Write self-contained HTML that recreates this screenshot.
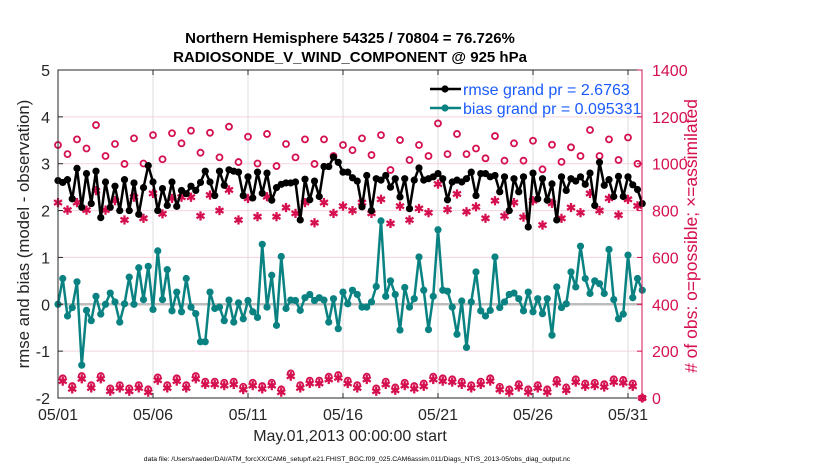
<!DOCTYPE html>
<html><head><meta charset="utf-8"><style>
body{margin:0;background:#fff;}
svg{display:block;font-family:"Liberation Sans",sans-serif;}
</style></head><body>
<svg id="chart" width="830" height="470"></svg>
<script>
const rmseVals=[2.64,2.6,2.66,2.25,2.9,2.07,2.79,2.15,2.84,1.85,2.61,2.07,2.52,2.0,2.66,2.0,2.59,1.92,2.49,2.96,2.61,2.0,2.47,2.11,2.61,2.09,2.43,2.36,2.52,2.43,2.6,
2.84,2.61,2.32,2.84,2.54,2.87,2.84,2.82,2.32,2.72,2.27,2.82,2.37,2.80,2.22,2.49,2.56,2.59,2.59,2.61,1.80,2.67,2.23,2.63,2.30,2.94,2.94,3.14,3.03,2.82,
2.82,2.7,2.63,2.08,2.75,2.0,2.68,2.65,2.75,2.5,2.68,2.29,2.68,2.04,2.65,2.91,2.65,2.68,2.72,2.79,2.68,2.23,2.61,2.65,2.61,2.68,2.82,2.32,2.79,2.79,2.72,
2.75,2.40,2.72,2.0,2.68,2.40,2.72,1.65,2.80,2.25,2.68,2.22,2.57,1.80,2.72,2.43,2.68,2.63,2.72,2.56,2.80,2.11,3.03,2.54,2.66,2.30,2.73,2.30,2.72,2.55,2.45,2.15];
const biasVals=[0,0.55,-0.25,-0.07,0.48,-1.3,-0.13,-0.35,0.17,-0.21,0,0.24,0.05,-0.38,0.01,0.58,0,0.78,0.1,0.81,-0.11,1.14,0.1,0.74,-0.14,0.26,-0.16,0.55,-0.06,-0.2,-0.8,
-0.8,0.26,-0.09,-0.06,-0.35,0.09,-0.38,0.03,-0.31,0.08,-0.16,-0.28,1.28,-0.06,0.62,-0.45,1.02,-0.09,0.09,0.08,-0.13,0.14,0.21,0.08,0.14,0.09,-0.38,0.12,-0.52,0.26,
0.01,0.3,0.21,-0.06,-0.06,0.05,0.38,1.78,0.17,0.5,0.21,-0.55,0.36,-0.06,0.12,1.01,0.3,-0.54,0.17,1.59,0.3,0.28,-0.06,-0.64,0.07,-0.92,0.05,0.69,-0.14,-0.25,-0.13,
1.01,-0.07,0.05,0.21,0.24,0.12,-0.14,0.26,-0.16,0.12,-0.2,0.12,-0.66,0.37,-0.07,0.01,0.69,0.37,1.24,0.55,0.23,0.5,0.44,0.23,1.17,0.1,-0.31,-0.21,1.05,0.14,0.55,0.3];
const possTop=[1080,1041,1104,1065,1165,1033,1084,999,1108,1001,1122,1019,1130,1087,1141,1047,
1132,1027,1158,1007,1115,1001,1127,990,1084,1027,1104,999,1104,1033,1080,
1058,1108,1037,1122,973,1101,1016,1080,1033,1172,1041,1127,1041,1065,1023,
1118,1013,1087,1013,1098,976,1081,1008,1070,1033,1144,1033,1104,1016,1112,1000];
const assimTop=[834,802,834,802,885,802,842,760,857,767,873,786,852,857,857,777,
866,800,888,760,852,774,859,774,813,788,834,748,834,788,819,
800,834,788,848,745,819,760,809,791,913,804,871,795,816,767,
842,777,834,772,842,738,831,767,813,791,873,800,852,781,848,820];
const possBot=[84,51,94,55,94,41,55,41,55,37,88,55,84,55,94,
70,70,65,70,48,65,51,65,37,105,55,74,74,91,98,
74,55,91,41,70,45,65,51,62,91,84,80,70,55,70,
84,48,37,59,37,55,37,77,45,80,62,65,59,80,77,62,0];
const xTickLabels=["05/01","05/06","05/11","05/16","05/21","05/26","05/31"];
const xTickDays=[1,6,11,16,21,26,31];
const yTickLeft=[-2,-1,0,1,2,3,4,5];
const yTickRight=[0,200,400,600,800,1000,1200,1400];

const NS="http://www.w3.org/2000/svg";
const svg=document.getElementById('chart');
const L=58,R=642,T=70,B=398;
const CRIM="#d5104f",TEAL="#0a8282";
function xs(d){return L+(d-1)*19;}
function yl(v){return B-(v+2)*(B-T)/7;}
function yr(c){return B-c*(B-T)/1400;}
function mk(tag,at,parent){const e=document.createElementNS(NS,tag);for(const k in at)e.setAttribute(k,at[k]);(parent||svg).appendChild(e);return e;}
function txt(s,at){const e=mk('text',at);e.textContent=s;return e;}

yTickLeft.forEach(v=>{if(v>-2&&v<5){const g=mk('line',{x1:L,x2:R,y1:yl(v),y2:yl(v),stroke:'#f5d3df','stroke-width':1});

}});
xTickDays.forEach(d=>{const g=mk('line',{x1:xs(d),x2:xs(d),y1:T,y2:B,stroke:'#dcdcdc','stroke-width':1});

});
const zl=mk('line',{x1:L,x2:R,y1:yl(0),y2:yl(0),stroke:'#bdbdbd','stroke-width':2.5});



function circ(x,y){const c=mk('circle',{cx:x,cy:y,r:3,fill:'none',stroke:CRIM,'stroke-width':1.8});

}
function star(x,y){const g=mk('g',{stroke:CRIM,'stroke-width':2.3});


const r=4.6;[[0,1],[0.87,0.5],[0.87,-0.5]].forEach(([a,b])=>mk('line',{x1:x-a*r,y1:y-b*r,x2:x+a*r,y2:y+b*r},g));}
possTop.forEach((c,i)=>circ(xs(1+i*0.5),yr(c)));
assimTop.forEach((c,i)=>star(xs(1+i*0.5),yr(c)));
possBot.forEach((c,i)=>{circ(xs(1.25+i*0.5),yr(c));star(xs(1.25+i*0.5),yr(Math.max(0,c-12)));});

function series(vals,color,name){
  const pts=vals.map((v,i)=>[xs(1+i*0.25),yl(v)]);
  const p=mk('polyline',{points:pts.map(p=>p.join(',')).join(' '),fill:'none',stroke:color,'stroke-width':2.5,'stroke-linejoin':'round'});
  
  
  pts.forEach(([x,y])=>{const c=mk('circle',{cx:x,cy:y,r:3.6,fill:color});
  
  });
}
series(rmseVals,'#000','rmse');
series(biasVals,TEAL,'bias');

const fr=mk('rect',{x:L,y:T,width:R-L,height:B-T,fill:'none',stroke:'#262626','stroke-width':1});



yTickLeft.forEach(v=>{mk('line',{x1:L,x2:L+5,y1:yl(v),y2:yl(v),stroke:'#262626'});
const t=txt(String(v),{x:L-8,y:yl(v)+6,'text-anchor':'end','font-size':16,fill:'#262626'});

});
yTickRight.forEach(c=>{mk('line',{x1:R-5,x2:R,y1:yr(c),y2:yr(c),stroke:CRIM});
const t=txt(String(c),{x:R+10,y:yr(c)+6,'font-size':16,fill:CRIM});

});
mk('line',{x1:R,x2:R,y1:T,y2:B,stroke:CRIM,'stroke-width':1});
xTickDays.forEach((d,i)=>{mk('line',{x1:xs(d),x2:xs(d),y1:B,y2:B-5,stroke:'#262626'});mk('line',{x1:xs(d),x2:xs(d),y1:T,y2:T+5,stroke:'#262626'});
const t=txt(xTickLabels[i],{x:xs(d),y:B+22,'text-anchor':'middle','font-size':16,fill:'#262626'});

});

let t;
t=txt('Northern Hemisphere 54325 / 70804 = 76.726%',{x:350,y:43,'text-anchor':'middle','font-size':15,'font-weight':'bold'});


t=txt('RADIOSONDE_V_WIND_COMPONENT @ 925 hPa',{x:350,y:62,'text-anchor':'middle','font-size':15,'font-weight':'bold'});


t=txt('rmse and bias (model - observation)',{x:0,y:0,'text-anchor':'middle','font-size':16.8,fill:'#262626',transform:'translate(29,234) rotate(-90)'});


t=txt('# of obs: o=possible; \u00d7=assimilated',{x:0,y:0,'text-anchor':'middle','font-size':17.5,fill:CRIM,transform:'translate(697,236) rotate(-90)'});


t=txt('May.01,2013 00:00:00 start',{x:350,y:441,'text-anchor':'middle','font-size':16,fill:'#262626'});


t=txt('data file: /Users/raeder/DAI/ATM_forcXX/CAM6_setup/f.e21.FHIST_BGC.f09_025.CAM6assim.011/Diags_NTrS_2013-05/obs_diag_output.nc',{x:357,y:461,'text-anchor':'middle','font-size':6.8,fill:'#000'});



function leg(y,color,label,name){const g=mk('g',{});


mk('line',{x1:430,x2:461,y1:y,y2:y,stroke:color,'stroke-width':2.5},g);
mk('circle',{cx:445,cy:y,r:3.6,fill:color},g);
const e=mk('text',{x:463,y:y+6,'font-size':16,fill:'#1a5cff'},g);e.textContent=label;}
leg(89,'#000','rmse grand pr = 2.6763','legend-rmse');
leg(108,TEAL,'bias grand pr = 0.095331','legend-bias');
</script>
</body></html>
